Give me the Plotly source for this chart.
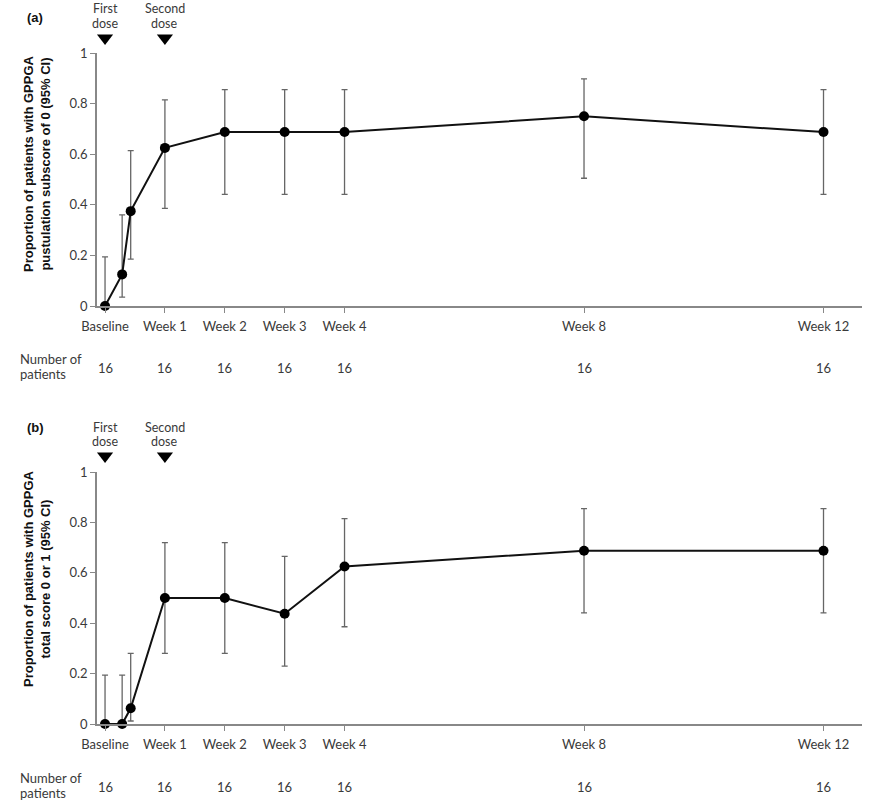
import plotly.graph_objects as go

# Study days of assessment
days = [0, 2, 3, 7, 14, 21, 28, 56, 84]
tick_days = [0, 7, 14, 21, 28, 56, 84]
tick_labels = ["Baseline", "Week 1", "Week 2", "Week 3", "Week 4", "Week 8", "Week 12"]
n_patients = ["16", "16", "16", "16", "16", "16", "16"]
dose_days = [0, 7]
dose_labels = [["First", "dose"], ["Second", "dose"]]

# Panel (a): GPPGA pustulation subscore of 0
a_prop = [0.0, 0.125, 0.375, 0.625, 0.6875, 0.6875, 0.6875, 0.75, 0.6875]
a_lower = [0.0, 0.035, 0.185, 0.386, 0.441, 0.441, 0.441, 0.505, 0.441]
a_upper = [0.194, 0.360, 0.614, 0.815, 0.855, 0.855, 0.855, 0.898, 0.855]

# Panel (b): GPPGA total score 0 or 1
b_prop = [0.0, 0.0, 0.0625, 0.5, 0.5, 0.4375, 0.625, 0.6875, 0.6875]
b_lower = [0.0, 0.0, 0.012, 0.280, 0.280, 0.230, 0.386, 0.441, 0.441]
b_upper = [0.194, 0.194, 0.280, 0.720, 0.720, 0.665, 0.815, 0.855, 0.855]

W, H = 881, 800
# plot area in window pixels (panels placed via domains)
PL, PR, PT, PB = 97, 862, 20, 724
PW, PH = PR - PL, PB - PT

def px(X):
    return (X - PL) / PW

def py(Y):
    return (PB - Y) / PH

TICKFONT = dict(family="Lato, Open Sans, sans-serif", size=13, color="#3a3a3a")
TITLEFONT = dict(family="Liberation Sans, Arial, sans-serif", size=13, color="#111111")
LABELFONT = dict(family="Lato, Open Sans, sans-serif", size=13, color="#3a3a3a")

fig = go.Figure()

def add_panel(prop, lower, upper, xa, ya, ya_dose):
    fig.add_trace(go.Scatter(
        x=days, y=prop, mode="lines+markers", xaxis=xa, yaxis=ya,
        line=dict(color="#111111", width=2),
        marker=dict(color="#000000", size=10),
        error_y=dict(type="data", symmetric=False,
                     array=[u - p for u, p in zip(upper, prop)],
                     arrayminus=[p - l for p, l in zip(prop, lower)],
                     color="#666666", thickness=1.3, width=3),
        cliponaxis=False, showlegend=False, hoverinfo="skip",
    ))
    # dose markers (downward triangles above the plot, on a hidden strip axis)
    fig.add_trace(go.Scatter(
        x=dose_days, y=[0.5] * len(dose_days), mode="markers",
        xaxis=xa, yaxis=ya_dose, cliponaxis=False, showlegend=False, hoverinfo="skip",
        marker=dict(symbol="triangle-down", size=14, color="#000000"),
    ))

add_panel(a_prop, a_lower, a_upper, "x", "y", "y3")
add_panel(b_prop, b_lower, b_upper, "x2", "y2", "y4")

xcommon = dict(range=[-0.94, 88.5], tickvals=tick_days, ticktext=tick_labels,
               ticks="outside", ticklen=5, tickcolor="#888888", showline=True,
               linecolor="#888888", linewidth=1.5, showgrid=False, zeroline=False,
               tickfont=TICKFONT, ticklabelstandoff=3)
ycommon = dict(range=[0, 1], tickvals=[0, 0.2, 0.4, 0.6, 0.8, 1],
               ticktext=["0", "0.2", "0.4", "0.6", "0.8", "1"],
               ticks="outside", ticklen=5, tickcolor="#888888", showline=True,
               linecolor="#888888", linewidth=1.5, showgrid=False, zeroline=False,
               tickfont=TICKFONT)
ystrip = dict(range=[0, 1], visible=False, showgrid=False, zeroline=False, fixedrange=True)

fig.update_layout(
    width=W, height=H,
    margin=dict(l=PL, r=W - PR, t=PT, b=H - PB, autoexpand=False),
    plot_bgcolor="rgba(0,0,0,0)", paper_bgcolor="white",
    xaxis=dict(**xcommon, anchor="y"),
    yaxis=dict(**ycommon, domain=[py(306), py(53)], anchor="x"),
    xaxis2=dict(**xcommon, anchor="y2"),
    yaxis2=dict(**ycommon, domain=[0.0, py(472)], anchor="x2"),
    yaxis3=dict(**ystrip, domain=[py(47), py(29)], anchor="x"),
    yaxis4=dict(**ystrip, domain=[py(465), py(447)], anchor="x2"),
)

ann = []
# y-axis titles
ann.append(dict(text="<b>Proportion of patients with GPPGA<br>pustulation subscore of 0 (95% CI)</b>",
                xref="paper", yref="paper", x=px(37), y=py(164),
                textangle=-90, showarrow=False, font=TITLEFONT, xanchor="center", yanchor="middle"))
ann.append(dict(text="<b>Proportion of patients with GPPGA<br>total score 0 or 1 (95% CI)</b>",
                xref="paper", yref="paper", x=px(37), y=py(579),
                textangle=-90, showarrow=False, font=TITLEFONT, xanchor="center", yanchor="middle"))
# panel labels
for lab, Y in [("(a)", 18), ("(b)", 427)]:
    ann.append(dict(text="<b>" + lab + "</b>", xref="paper", yref="paper", x=px(25), y=py(Y),
                    showarrow=False, font=dict(family="Liberation Sans, Arial", size=13, color="#111"),
                    xanchor="left", yanchor="middle"))

# dose labels
for xa, y1, y2 in [("x", 8.5, 23), ("x2", 427, 441.5)]:
    for d, lines in zip(dose_days, dose_labels):
        for txt, Y in zip(lines, [y1, y2]):
            ann.append(dict(text=txt, xref=xa, yref="paper", x=d, y=py(Y),
                            showarrow=False, height=12, borderpad=0,
                            font=dict(family="Lato, sans-serif", size=12.5, color="#3a3a3a"),
                            xanchor="center", yanchor="middle"))

# number of patients rows
for xa, yl1, yl2, yn in [("x", 359, 374, 368), ("x2", 778, 793, 787)]:
    ann.append(dict(text="Number of", xref="paper", yref="paper", x=px(18), y=py(yl1),
                    showarrow=False, font=LABELFONT, xanchor="left", yanchor="middle"))
    ann.append(dict(text="patients", xref="paper", yref="paper", x=px(18), y=py(yl2),
                    showarrow=False, font=LABELFONT, xanchor="left", yanchor="middle"))
    for d, n in zip(tick_days, n_patients):
        ann.append(dict(text=n, xref=xa, yref="paper", x=d, y=py(yn), showarrow=False,
                        font=LABELFONT, xanchor="center", yanchor="middle"))

fig.update_layout(annotations=ann)
fig.write_html("out.html", config={"displayModeBar": False},
               post_script="document.body.style.margin='0';")
